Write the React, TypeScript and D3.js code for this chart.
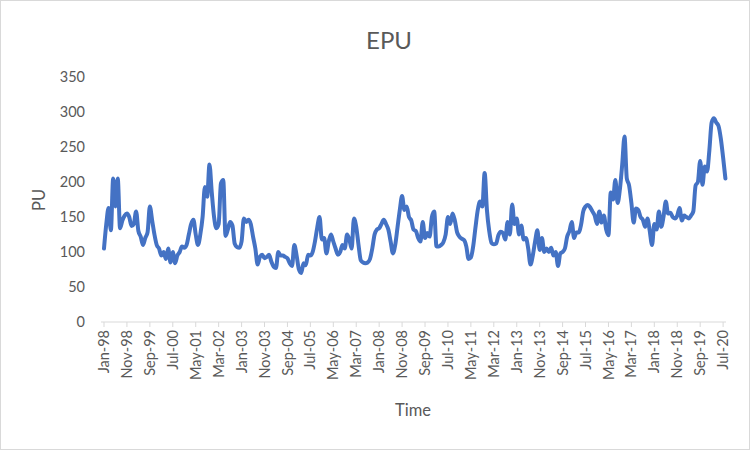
import React from "react";
import * as d3 from "d3";

const epuValues: number[] = [
  105, 140, 163, 131, 205, 165, 205, 134, 145, 152,
  155, 150, 137, 140, 158, 130, 122, 110, 120, 128,
  165, 145, 125, 110, 105, 95, 100, 90, 105, 85,
  100, 84, 95, 100, 108, 106, 110, 125, 140, 146,
  125, 110, 125, 150, 193, 179, 225, 185, 150, 134,
  140, 198, 203, 123, 132, 143, 138, 112, 107, 106,
  115, 148, 143, 146, 140, 122, 105, 82, 93, 96,
  91, 93, 96, 86, 79, 77, 100, 95, 95, 93,
  91, 84, 80, 110, 95, 75, 70, 84, 81, 96,
  95, 100, 115, 135, 150, 118, 120, 98, 115, 125,
  115, 105, 96, 100, 110, 105, 125, 118, 105, 148,
  136, 110, 88, 85, 84, 85, 90, 105, 125, 132,
  134, 140, 146, 140, 132, 115, 98, 110, 135, 160,
  180, 160, 165, 150, 145, 132, 130, 120, 115, 143,
  120, 127, 122, 150, 158, 108, 108, 110, 114, 125,
  150, 140, 155, 145, 128, 122, 119, 117, 108, 90,
  92, 108, 135, 160, 172, 165, 213, 160, 130, 113,
  111, 112, 124, 129, 127, 118, 143, 125, 168, 140,
  148, 125, 138, 118, 120, 105, 82, 95, 115, 131,
  103, 120, 100, 105, 100, 106, 95, 100, 80, 98,
  100, 105, 122, 130, 143, 120, 128, 128, 138, 158,
  165, 167, 164, 158, 152, 140, 158, 142, 152, 132,
  124, 185, 175, 203, 170, 190, 225, 265, 205, 195,
  170, 142, 162, 160, 150, 146, 136, 148, 130, 110,
  140, 132, 158, 136, 150, 172, 155, 156, 150, 148,
  152, 163, 145, 152, 150, 148, 152, 158, 195, 200,
  230, 196, 222, 215, 245, 285, 291, 285, 280, 262,
  235, 205,
];

const tickLabels: string[] = [
  "Jan-98", "Nov-98", "Sep-99", "Jul-00", "May-01", "Mar-02", "Jan-03",
  "Nov-03", "Sep-04", "Jul-05", "May-06", "Mar-07", "Jan-08", "Nov-08",
  "Sep-09", "Jul-10", "May-11", "Mar-12", "Jan-13", "Nov-13", "Sep-14",
  "Jul-15", "May-16", "Mar-17", "Jan-18", "Nov-18", "Sep-19", "Jul-20",
];
const tickStep = 10; // months between labelled ticks
const yTicks: number[] = [0, 50, 100, 150, 200, 250, 300, 350];

const W = 750;
const H = 450;
const FONT = "Lato, 'Open Sans', sans-serif";
const TEXT = "#595959";

export default function App() {
  const n = epuValues.length;
  const x = d3.scaleLinear().domain([0, n - 1]).range([104, 104 + (n - 1) * 2.293]);
  const y = d3.scaleLinear().domain([0, 350]).range([322, 77]);
  const line = d3
    .line<number>()
    .x((_, i) => x(i))
    .y((d) => y(d))
    .curve(d3.curveMonotoneX);

  const axisY = y(0);
  return (
    <svg
      width={W}
      height={H}
      style={{ position: "absolute", left: 0, top: 0, background: "#fff" }}
      fontFamily={FONT}
    >
      <rect x={0.5} y={0.5} width={W - 1} height={H - 1} fill="#fff" stroke="#d9d9d9" />
      <text x={389} y={49} textAnchor="middle" fontSize={24} fill={TEXT}>
        EPU
      </text>
      {yTicks.map((t) => (
        <text
          key={t}
          x={85}
          y={y(t)}
          dy="0.35em"
          textAnchor="end"
          fontSize={14.5}
          fill={TEXT}
        >
          {t}
        </text>
      ))}
      <line x1={101} x2={726} y1={axisY} y2={axisY} stroke="#d9d9d9" strokeWidth={1} />
      {tickLabels.map((lab, k) => {
        const tx = x(k * tickStep);
        return (
          <g key={lab}>
            <line x1={tx} x2={tx} y1={axisY} y2={axisY + 5} stroke="#d9d9d9" />
            <text
              transform={`translate(${tx},${axisY + 8}) rotate(-90)`}
              textAnchor="end"
              dy="0.35em"
              fontSize={14.5}
              fill={TEXT}
            >
              {lab}
            </text>
          </g>
        );
      })}
      <path
        d={line(epuValues) || ""}
        fill="none"
        stroke="#4472C4"
        strokeWidth={4}
        strokeLinejoin="round"
        strokeLinecap="round"
      />
      <text
        transform={`translate(39,200) rotate(-90)`}
        textAnchor="middle"
        dy="0.35em"
        fontSize={16.5}
        fill={TEXT}
      >
        PU
      </text>
      <text x={413} y={416} textAnchor="middle" fontSize={16.5} fill={TEXT}>
        Time
      </text>
    </svg>
  );
}
